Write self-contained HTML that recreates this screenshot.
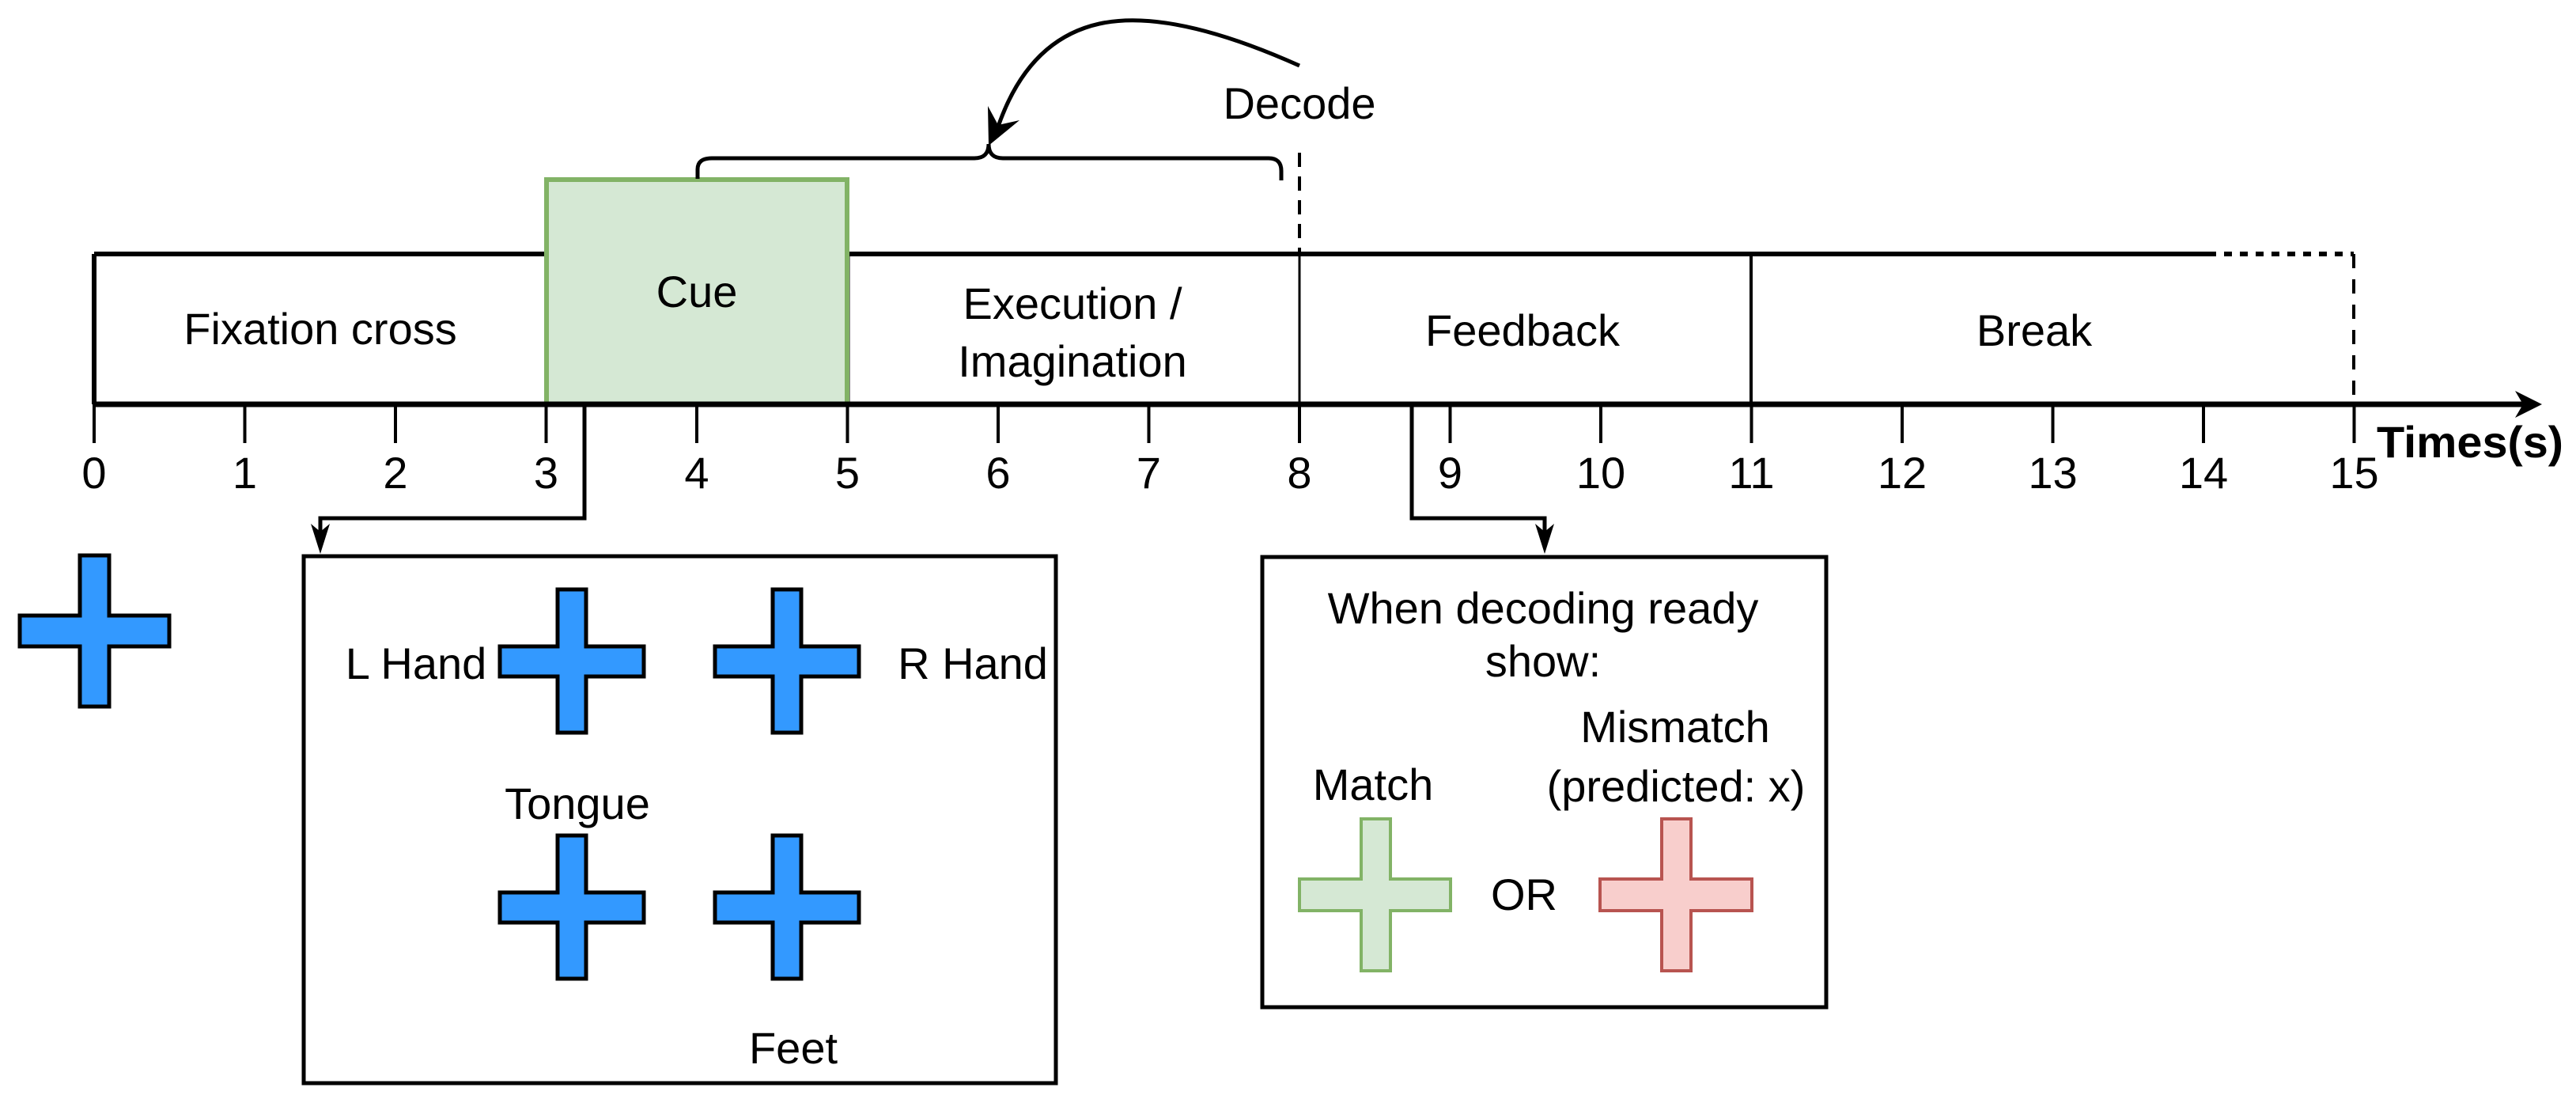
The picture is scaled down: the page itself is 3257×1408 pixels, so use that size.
<!DOCTYPE html>
<html><head><meta charset="utf-8"><style>
html,body{margin:0;padding:0;background:#fff;}
svg{display:block;}
text{font-family:"Liberation Sans",Arial,sans-serif;font-size:56px;fill:#000;}
</style></head><body>
<svg width="3257" height="1408" viewBox="0 0 3257 1408" xmlns="http://www.w3.org/2000/svg">
<line x1="119" y1="321" x2="2792" y2="321" stroke="#000" stroke-width="6"/>
<line x1="2792" y1="321" x2="2976" y2="321" stroke="#000" stroke-width="6" stroke-dasharray="10,10"/>
<line x1="2976" y1="321" x2="2976" y2="511" stroke="#000" stroke-width="4" stroke-dasharray="18,14"/>
<line x1="119" y1="321" x2="119" y2="511" stroke="#000" stroke-width="6"/>
<line x1="1072" y1="321" x2="1072" y2="511" stroke="#000" stroke-width="5"/>
<line x1="1643" y1="321" x2="1643" y2="511" stroke="#000" stroke-width="3"/>
<line x1="1643" y1="193" x2="1643" y2="321" stroke="#000" stroke-width="4" stroke-dasharray="18,12"/>
<line x1="2214" y1="321" x2="2214" y2="511" stroke="#000" stroke-width="4"/>
<rect x="691" y="227" width="380" height="284" fill="#d5e8d4" stroke="#82b366" stroke-width="6"/>
<line x1="119" y1="511" x2="3195" y2="511" stroke="#000" stroke-width="7"/>
<polygon points="3214,511 3180,494 3190,511 3180,528" fill="#000"/>
<g stroke="#000" stroke-width="4">
<line x1="119" y1="511" x2="119" y2="560"/><line x1="309.5" y1="511" x2="309.5" y2="560"/>
<line x1="500" y1="511" x2="500" y2="560"/><line x1="690.5" y1="511" x2="690.5" y2="560"/>
<line x1="881" y1="511" x2="881" y2="560"/><line x1="1071.5" y1="511" x2="1071.5" y2="560"/>
<line x1="1262" y1="511" x2="1262" y2="560"/><line x1="1452.5" y1="511" x2="1452.5" y2="560"/>
<line x1="1643" y1="511" x2="1643" y2="560"/><line x1="1833.5" y1="511" x2="1833.5" y2="560"/>
<line x1="2024" y1="511" x2="2024" y2="560"/><line x1="2214.5" y1="511" x2="2214.5" y2="560"/>
<line x1="2405" y1="511" x2="2405" y2="560"/><line x1="2595.5" y1="511" x2="2595.5" y2="560"/>
<line x1="2786" y1="511" x2="2786" y2="560"/><line x1="2976.5" y1="511" x2="2976.5" y2="560"/>
</g>
<g text-anchor="middle">
<text x="119" y="617">0</text><text x="309.5" y="617">1</text><text x="500" y="617">2</text>
<text x="690.5" y="617">3</text><text x="881" y="617">4</text><text x="1071.5" y="617">5</text>
<text x="1262" y="617">6</text><text x="1452.5" y="617">7</text><text x="1643" y="617">8</text>
<text x="1833.5" y="617">9</text><text x="2024" y="617">10</text><text x="2214.5" y="617">11</text>
<text x="2405" y="617">12</text><text x="2595.5" y="617">13</text><text x="2786" y="617">14</text>
<text x="2976.5" y="617">15</text>
<text x="405" y="435">Fixation cross</text>
<text x="881" y="388">Cue</text>
<text x="1356" y="403">Execution /</text>
<text x="1356" y="476">Imagination</text>
<text x="1925" y="437">Feedback</text>
<text x="2572" y="437">Break</text>
<text x="1643" y="150">Decode</text>
</g>
<text x="3005" y="578" style="font-weight:bold" textLength="236" lengthAdjust="spacingAndGlyphs">Times(s)</text>
<path d="M882 226 V214 Q882 200 900 200 H1232 Q1250 200 1250 182 Q1250 200 1268 200 H1604 Q1620 200 1620 216 V228" fill="none" stroke="#000" stroke-width="5"/>
<path d="M1643 83 Q1480 10 1390 30 Q1300 50 1262 160" fill="none" stroke="#000" stroke-width="5"/>
<polygon points="1250,184 1249,134 1262,158 1289,152" fill="#000"/>
<path d="M739 511 V655 H405 V680" fill="none" stroke="#000" stroke-width="5"/>
<polygon points="405,700 393,662 405,672 417,662" fill="#000"/>
<path d="M1785 511 V655 H1953 V680" fill="none" stroke="#000" stroke-width="5"/>
<polygon points="1953,700 1941,662 1953,672 1965,662" fill="#000"/>
<path d="M101 702 H138 V778 H214 V817 H138 V893 H101 V817 H25 V778 H101 Z" fill="#3399ff" stroke="#000" stroke-width="5"/>
<rect x="384" y="703" width="951" height="666" fill="none" stroke="#000" stroke-width="5"/>
<path d="M705 745 H741 V817 H814 V855 H741 V926 H705 V855 H632 V817 H705 Z" fill="#3399ff" stroke="#000" stroke-width="5"/>
<path d="M977 745 H1013 V817 H1086 V855 H1013 V926 H977 V855 H904 V817 H977 Z" fill="#3399ff" stroke="#000" stroke-width="5"/>
<path d="M705 1056 H741 V1128 H814 V1166 H741 V1237 H705 V1166 H632 V1128 H705 Z" fill="#3399ff" stroke="#000" stroke-width="5"/>
<path d="M977 1056 H1013 V1128 H1086 V1166 H1013 V1237 H977 V1166 H904 V1128 H977 Z" fill="#3399ff" stroke="#000" stroke-width="5"/>
<g text-anchor="middle">
<text x="526" y="858">L Hand</text>
<text x="1230" y="858">R Hand</text>
<text x="730" y="1035">Tongue</text>
<text x="1003" y="1344">Feet</text>
</g>
<rect x="1596" y="704" width="713" height="569" fill="none" stroke="#000" stroke-width="5"/>
<g text-anchor="middle">
<text x="1951" y="788">When decoding ready</text>
<text x="1951" y="855">show:</text>
<text x="1736" y="1011">Match</text>
<text x="2118" y="938">Mismatch</text>
<text x="2119" y="1013">(predicted: x)</text>
<text x="1927" y="1150">OR</text>
</g>
<path d="M1721 1035 H1758 V1111 H1834 V1151 H1758 V1227 H1721 V1151 H1643 V1111 H1721 Z" fill="#d5e8d4" stroke="#82b366" stroke-width="4"/>
<path d="M2101 1035 H2138 V1111 H2215 V1151 H2138 V1227 H2101 V1151 H2023 V1111 H2101 Z" fill="#f8cecc" stroke="#b85450" stroke-width="4"/>
</svg>
</body></html>
